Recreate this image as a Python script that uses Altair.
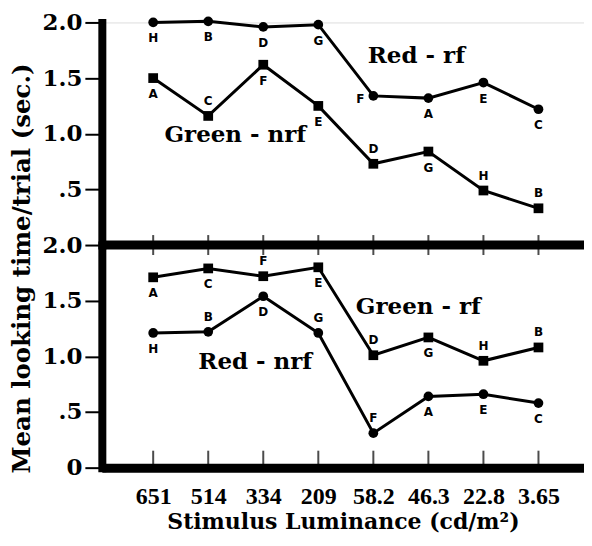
import altair as alt
import pandas as pd

luminance = ["651", "514", "334", "209", "58.2", "46.3", "22.8", "3.65"]

# Top panel
top_red_rf = [2.00, 2.01, 1.96, 1.98, 1.34, 1.32, 1.46, 1.22]
top_red_rf_letters = ["H", "B", "D", "G", "F", "A", "E", "C"]
top_red_rf_side = ["below", "below", "below", "below", "left", "below", "below", "below"]

top_green_nrf = [1.50, 1.16, 1.62, 1.25, 0.73, 0.84, 0.49, 0.33]
top_green_nrf_letters = ["A", "C", "F", "E", "D", "G", "H", "B"]
top_green_nrf_side = ["below", "above", "below", "below", "above", "below", "above", "above"]

# Bottom panel
bot_green_rf = [1.71, 1.79, 1.72, 1.80, 1.01, 1.17, 0.96, 1.08]
bot_green_rf_letters = ["A", "C", "F", "E", "D", "G", "H", "B"]
bot_green_rf_side = ["below", "below", "above", "below", "above", "below", "above", "above"]

bot_red_nrf = [1.21, 1.22, 1.54, 1.21, 0.31, 0.64, 0.66, 0.58]
bot_red_nrf_letters = ["H", "B", "D", "G", "F", "A", "E", "C"]
bot_red_nrf_side = ["below", "above", "below", "above", "above", "below", "below", "below"]

series_names = ["Red - rf", "Green - nrf", "Green - rf", "Red - nrf"]
label_anchor = ["46.3", "334", "46.3", "334"]
label_value = [1.70, 0.99, 1.44, 0.95]


def frame(series, shape, values, letters, sides):
    return pd.DataFrame({
        "series": series, "shape": shape, "lum": luminance,
        "value": values, "letter": letters, "side": sides,
    })


top_df = pd.concat([
    frame("Red - rf", "circle", top_red_rf, top_red_rf_letters, top_red_rf_side),
    frame("Green - nrf", "square", top_green_nrf, top_green_nrf_letters, top_green_nrf_side),
])
bot_df = pd.concat([
    frame("Green - rf", "square", bot_green_rf, bot_green_rf_letters, bot_green_rf_side),
    frame("Red - nrf", "circle", bot_red_nrf, bot_red_nrf_letters, bot_red_nrf_side),
])
ticks_df = pd.DataFrame({"lum": luminance})

W, H = 483, 223
SERIF = "DejaVu Serif"
XSCALE = alt.Scale(type="point", padding=0.88, align=0.53, domain=luminance)
YSCALE = alt.Scale(domain=[0, 2], nice=False, zero=True)
LABEL_EXPR = "datum.value == 0 ? '0' : datum.value == 0.5 ? '.5' : format(datum.value, '.1f')"


def y_axis(values, title=None):
    kw = dict(
        values=values, labelExpr=LABEL_EXPR, labelFont=SERIF, labelFontWeight="bold",
        labelFontSize=23, labelColor="black", labelPadding=3, tickSize=17, tickWidth=2,
        tickColor="black", domainColor="black", domainWidth=8, domainCap="square",
        grid=False, labelOverlap=False, labelFlush=False,
    )
    if title is not None:
        kw.update(title=title, titleFont=SERIF, titleFontWeight="bold", titleFontSize=24.5,
                  titleColor="black", titleX=-79, titleY=246, titleAngle=-90,
                  titleBaseline="middle", titleAlign="center")
    else:
        kw.update(title=None)
    return alt.Axis(**kw)


def panel(df, y_values, y_title, x_axis, ann_idx, extra):
    x = alt.X("lum:N", sort=luminance, scale=XSCALE, axis=x_axis)
    y = alt.Y("value:Q", scale=YSCALE, axis=y_axis(y_values, y_title))
    base = alt.Chart(df)
    line = base.mark_line(color="black", strokeWidth=3).encode(x=x, y=y, detail="series:N")
    pts = base.mark_point(filled=True, size=95, opacity=1, color="black").encode(
        x=x, y=y, shape=alt.Shape("shape:N", scale=None))
    layers = [line, pts]
    for side, dx, dy in [("below", 0, 16), ("above", 0, -15), ("left", -13, 3)]:
        layers.append(
            base.transform_filter(alt.datum.side == side)
            .mark_text(font="DejaVu Sans", fontWeight="bold", fontSize=12, dx=dx, dy=dy,
                       align="center", baseline="middle", color="black")
            .encode(x=x, y=y, text="letter:N")
        )
    for i, dx in ann_idx:
        ann = pd.DataFrame({"lum": [label_anchor[i]], "value": [label_value[i]],
                            "name": [series_names[i]]})
        layers.append(
            alt.Chart(ann).mark_text(font=SERIF, fontWeight="bold", fontSize=23, dx=dx,
                                     align="center", baseline="middle", color="black")
            .encode(x=x, y=y, text="name:N")
        )
    layers.extend(extra(x))
    return alt.layer(*layers).properties(width=W, height=H)


def bottom_extra(x):
    # middle dividing line (top edge of the lower panel) with ticks crossing it
    mid_line = alt.Chart(ticks_df.head(1)).mark_rule(color="black", strokeWidth=9).encode(
        x=alt.value(0), x2=alt.value(W), y=alt.Y(datum=2, scale=YSCALE))
    mid_ticks = alt.Chart(ticks_df).mark_tick(orient="vertical", color="black", thickness=2,
                                               size=20).encode(
        x=x, y=alt.Y(datum=2, scale=YSCALE))
    bot_ticks = alt.Chart(ticks_df).mark_tick(orient="vertical", color="black", thickness=2,
                                               size=17, yOffset=-8.5).encode(
        x=x, y=alt.Y(datum=0, scale=YSCALE))
    return [mid_line, mid_ticks, bot_ticks]


top_x_axis = alt.Axis(title=None, labels=False, ticks=False, tickSize=0, domain=False,
                      grid=False)
bot_x_axis = alt.Axis(title="Stimulus Luminance (cd/m²)", labels=True, ticks=False, tickSize=0,
                      domain=True, domainColor="black", domainWidth=9, grid=False,
                      labelFont="Liberation Serif", labelFontWeight="bold", labelFontSize=24,
                      labelColor="black", labelPadding=17, labelAngle=0,
                      titleFont=SERIF, titleFontWeight="bold", titleFontSize=22,
                      titleColor="black", titlePadding=3)

top = panel(top_df, [0.5, 1.0, 1.5, 2.0], "Mean looking time/trial (sec.)", top_x_axis,
            [(0, -12), (1, -28)], lambda x: [])
bottom = panel(bot_df, [0, 0.5, 1.0, 1.5, 2.0], None, bot_x_axis,
               [(2, -10), (3, -8)], bottom_extra)

chart = alt.vconcat(top, bottom, spacing=0, bounds="flush").properties(
    padding={"left": 1, "top": 2, "right": -5, "bottom": 0}
).configure_view(stroke=None).configure(background="white")

chart.save("out.html", embed_options={"renderer": "svg", "actions": False})
